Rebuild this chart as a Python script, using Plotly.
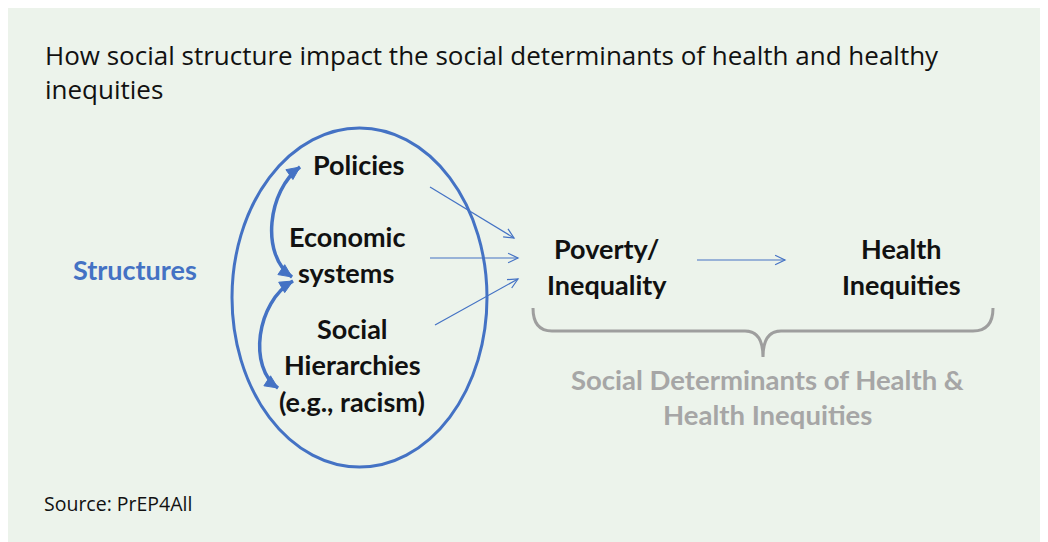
import math

import plotly.graph_objects as go

W, H = 1048, 542
OFF = 8  # page margin around the figure, coordinates below are page pixels
BLUE = "#4472C4"
GREY = "#A6A6A6"
PANEL = "#ECF3EB"

title_lines = [
    "How social structure impact the social determinants of health and healthy",
    "inequities",
]
source_text = "Source: PrEP4All"

# node labels (one entry per text line) and their centres in pixel space
structure_labels = ["Policies", "Economic", "systems", "Social", "Hierarchies", "(e.g., racism)"]
structure_pos = [(358, 164), (347, 236), (346, 272), (352, 328), (352, 364), (352, 401)]

outcome_labels = ["Poverty/", "Inequality", "Health", "Inequities"]
outcome_pos = [(606, 248), (607, 284), (901, 248), (901, 284)]

sdoh_labels = ["Social Determinants of Health &", "Health Inequities"]
sdoh_pos = [(767, 379), (767, 414)]

# thin connector arrows: (start, end)
thin_arrows = [
    ((430, 187), (514, 238)),
    ((430, 258), (518, 258)),
    ((435, 325), (518, 279)),
    ((697, 260), (785, 260)),
]

# curved double-headed arrows as cubic bezier control points
curved_arrows = [
    [(300, 167), (268, 190), (260, 255), (292, 277)],
    [(293, 281), (256, 302), (248, 368), (278, 388)],
]


def chevron(p0, p1, length=11, spread=0.45):
    ang = math.atan2(p1[1] - p0[1], p1[0] - p0[0])
    pts = []
    for s in (-spread, spread):
        a = ang + math.pi + s
        pts.append((p1[0] + length * math.cos(a), p1[1] + length * math.sin(a)))
    return f"M {pts[0][0]:.1f} {pts[0][1]:.1f} L {p1[0]} {p1[1]} L {pts[1][0]:.1f} {pts[1][1]:.1f}"


def triangle(tip, frm, length=13, half=6):
    ang = math.atan2(tip[1] - frm[1], tip[0] - frm[0])
    bx = tip[0] - length * math.cos(ang)
    by = tip[1] - length * math.sin(ang)
    nx, ny = -math.sin(ang) * half, math.cos(ang) * half
    return (f"M {tip[0]:.1f} {tip[1]:.1f} L {bx + nx:.1f} {by + ny:.1f} "
            f"L {bx - nx:.1f} {by - ny:.1f} Z")


fig = go.Figure()

shapes = [
    dict(type="circle", x0=232, y0=128, x1=487, y1=467, line=dict(color=BLUE, width=3)),
    dict(type="path",
         path="M 533 308 Q 533 331 552 331 L 745 331 Q 763 331 763 357 "
              "Q 763 331 781 331 L 973 331 Q 993 331 993 308",
         line=dict(color="#9E9E9E", width=3)),
]

for p0, p1 in thin_arrows:
    shapes.append(dict(type="line", x0=p0[0], y0=p0[1], x1=p1[0], y1=p1[1],
                       line=dict(color=BLUE, width=1.2)))
    shapes.append(dict(type="path", path=chevron(p0, p1), line=dict(color=BLUE, width=1.2)))

for a, b, c, d in curved_arrows:
    shapes.append(dict(type="path",
                       path=f"M {a[0]} {a[1]} C {b[0]} {b[1]}, {c[0]} {c[1]}, {d[0]} {d[1]}",
                       line=dict(color=BLUE, width=3.5)))
    shapes.append(dict(type="path", path=triangle(a, b), fillcolor=BLUE, line=dict(color=BLUE, width=1)))
    shapes.append(dict(type="path", path=triangle(d, c), fillcolor=BLUE, line=dict(color=BLUE, width=1)))

annotations = [
    dict(x=43, y=35, text="<br>".join(title_lines), xanchor="left", yanchor="top", align="left",
         font=dict(family="Open Sans", size=26, color="#111111")),
    dict(x=42, y=503, text=source_text, xanchor="left", yanchor="middle",
         font=dict(family="Open Sans", size=19.5, color="#111111")),
    dict(x=135, y=269, text="<b>Structures</b>", xanchor="center", yanchor="middle",
         font=dict(family="Lato", size=27, color=BLUE)),
]
for lab, (x, y) in zip(structure_labels + outcome_labels, structure_pos + outcome_pos):
    annotations.append(dict(x=x, y=y, text=f"<b>{lab}</b>", xanchor="center", yanchor="middle",
                            font=dict(family="Lato", size=27, color="#111111")))
for lab, (x, y) in zip(sdoh_labels, sdoh_pos):
    annotations.append(dict(x=x, y=y, text=f"<b>{lab}</b>", xanchor="center", yanchor="middle",
                            font=dict(family="Lato", size=27.5, color=GREY)))
for a in annotations:
    a["showarrow"] = False
    a["xref"] = "x"
    a["yref"] = "y"

for s in shapes:
    s["xref"] = "x"
    s["yref"] = "y"

fig.update_layout(
    width=W,
    height=H,
    margin=dict(l=0, r=0, t=0, b=0),
    paper_bgcolor=PANEL,
    plot_bgcolor=PANEL,
    xaxis=dict(range=[OFF, W + OFF], visible=False, fixedrange=True),
    yaxis=dict(range=[H + OFF, OFF], visible=False, fixedrange=True),
    shapes=shapes,
    annotations=annotations,
    showlegend=False,
)

fig.write_html("out.html")
